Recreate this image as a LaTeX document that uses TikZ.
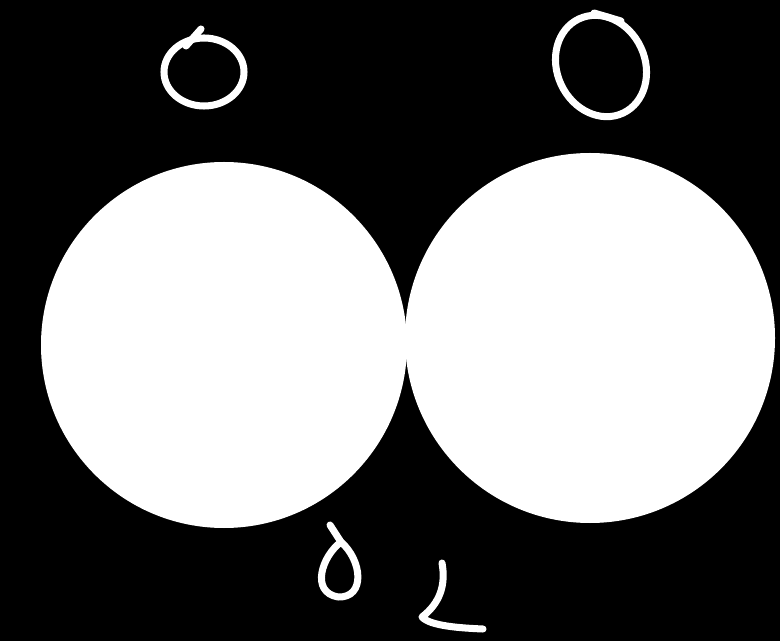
\documentclass[tikz,border=0pt]{standalone}
\usepackage{tikz}
\begin{document}
\begin{tikzpicture}[x=0.02cm,y=-0.02cm,
  disc/.style={fill=white,draw=none},
  pen/.style={draw=white,line width=4pt,line cap=round,line join=round}]
% ---- background and frame ----
\fill[black] (0,0) rectangle (780,641);
\useasboundingbox (0,0) rectangle (780,641);
% ---- the two touching discs ----
\fill[disc] (224,345) circle[radius=183];
\fill[disc] (590,338) circle[radius=185];
% ---- mark above left disc ----
\draw[pen] (204,72) ellipse[x radius=40,y radius=34];
\draw[pen] (201,29) -- (186,46);
% ---- mark above right disc ----
\draw[pen,rotate around={25:(601,66)}] (601,66) ellipse[x radius=44,y radius=52];
\draw[pen] (594,13) -- (621,21);
% ---- marks below the contact point ----
\draw[pen] (330,525) -- (341,542);
\draw[pen] (341,542) .. controls (322,556) and (310,592) .. (338,597)
  .. controls (366,598) and (362,560) .. (341,542);
\draw[pen] (442,563) .. controls (446,585) and (440,603) .. (422,617)
  .. controls (430,626) and (460,628) .. (483,629);
\end{tikzpicture}
\end{document}
